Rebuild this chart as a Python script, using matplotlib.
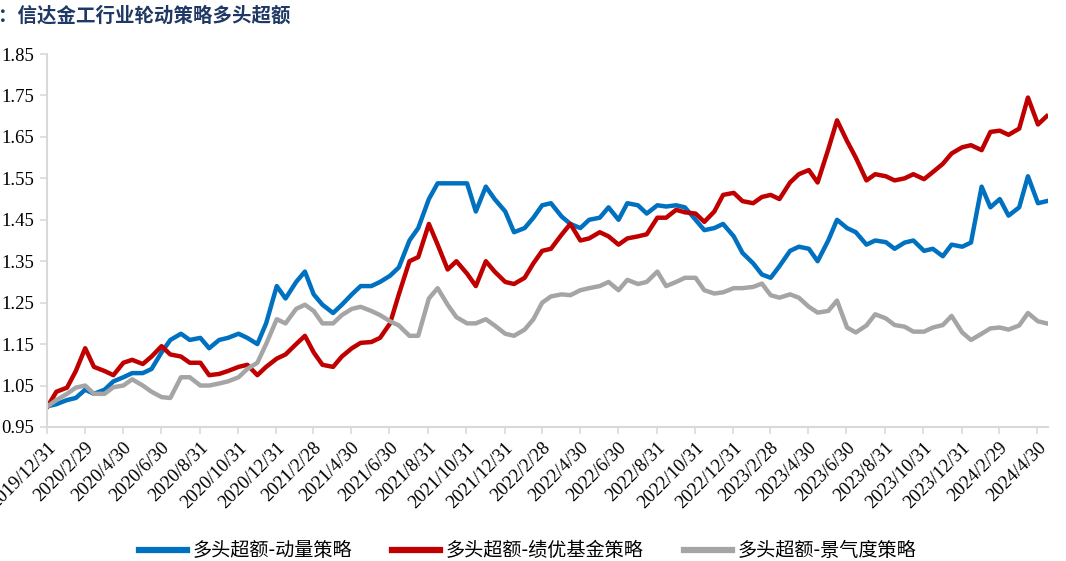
import pandas as pd
import numpy as np
import matplotlib
matplotlib.use('Agg')
import matplotlib.pyplot as plt

# semi-monthly sample points, 2020-01-01 .. 2024-05-15
dates = pd.date_range('2020-01-01', periods=106, freq='SMS')

momentum = [
    1.00, 1.005, 1.015, 1.02, 1.04, 1.03, 1.04, 1.06, 1.07, 1.08,
    1.08, 1.09, 1.13, 1.16, 1.175, 1.16, 1.165, 1.14, 1.16, 1.165,
    1.175, 1.165, 1.15, 1.20, 1.29, 1.26, 1.30, 1.325, 1.27, 1.245,
    1.225, 1.245, 1.27, 1.29, 1.29, 1.30, 1.315, 1.335, 1.40, 1.43,
    1.50, 1.538, 1.538, 1.538, 1.538, 1.47, 1.53, 1.50, 1.47, 1.42,
    1.43, 1.455, 1.485, 1.49, 1.458, 1.44, 1.43, 1.45, 1.455, 1.48,
    1.45, 1.49, 1.485, 1.465, 1.485, 1.482, 1.485, 1.48, 1.45, 1.425,
    1.43, 1.44, 1.41, 1.37, 1.345, 1.318, 1.31, 1.338, 1.375, 1.385,
    1.38, 1.35, 1.40, 1.45, 1.43, 1.42, 1.39, 1.40, 1.396, 1.38,
    1.395, 1.40, 1.375, 1.38, 1.362, 1.39, 1.385, 1.395, 1.53, 1.48,
    1.50, 1.46, 1.48, 1.555, 1.49, 1.495,
]

fund = [
    1.00, 1.035, 1.045, 1.085, 1.14, 1.095, 1.085, 1.075, 1.105, 1.112,
    1.102, 1.12, 1.145, 1.125, 1.12, 1.105, 1.105, 1.075, 1.078, 1.085,
    1.095, 1.10, 1.075, 1.095, 1.115, 1.125, 1.15, 1.17, 1.13, 1.10,
    1.095, 1.12, 1.14, 1.153, 1.155, 1.165, 1.20, 1.27, 1.35, 1.36,
    1.44, 1.39, 1.33, 1.35, 1.32, 1.29, 1.35, 1.325, 1.30, 1.295,
    1.31, 1.345, 1.375, 1.38, 1.414, 1.44, 1.40, 1.405, 1.42, 1.41,
    1.39, 1.405, 1.41, 1.415, 1.455, 1.455, 1.474, 1.468, 1.465, 1.445,
    1.47, 1.51, 1.515, 1.495, 1.49, 1.505, 1.51, 1.50, 1.54, 1.56,
    1.57, 1.54, 1.62, 1.69, 1.64, 1.60, 1.545, 1.56, 1.555, 1.545,
    1.55, 1.56, 1.548, 1.565, 1.585, 1.61, 1.625, 1.63, 1.618, 1.662,
    1.665, 1.655, 1.67, 1.745, 1.68, 1.70,
]

boom = [
    1.00, 1.015, 1.03, 1.045, 1.05, 1.03, 1.03, 1.046, 1.05, 1.065,
    1.05, 1.035, 1.022, 1.02, 1.07, 1.07, 1.05, 1.05, 1.055, 1.06,
    1.07, 1.09, 1.105, 1.15, 1.21, 1.20, 1.235, 1.245, 1.23, 1.20,
    1.20, 1.22, 1.235, 1.24, 1.23, 1.22, 1.205, 1.195, 1.17, 1.17,
    1.26, 1.285, 1.245, 1.215, 1.20, 1.20, 1.21, 1.195, 1.175, 1.17,
    1.185, 1.21, 1.25, 1.265, 1.27, 1.268, 1.28, 1.285, 1.29, 1.30,
    1.28, 1.305, 1.295, 1.30, 1.325, 1.29, 1.30, 1.31, 1.31, 1.28,
    1.272, 1.275, 1.285, 1.285, 1.288, 1.296, 1.268, 1.262, 1.27, 1.262,
    1.24, 1.226, 1.23, 1.255, 1.19, 1.178, 1.195, 1.222, 1.212, 1.196,
    1.192, 1.18, 1.18, 1.19, 1.196, 1.218, 1.178, 1.16, 1.175, 1.188,
    1.19, 1.185, 1.195, 1.225, 1.205, 1.20,
]

series_names = ['多头超额-动量策略', '多头超额-绩优基金策略', '多头超额-景气度策略']
series_colors = ['#0070C0', '#C00000', '#A5A5A5']
title = '：信达金工行业轮动策略多头超额'

tick_dates = pd.date_range('2019-12-31', '2024-04-30', freq='2ME')
tick_labels = [f'{d.year}/{d.month}/{d.day}' for d in tick_dates]
y_ticks = np.arange(0.95, 1.851, 0.10)

fig = plt.figure(figsize=(10.66, 5.61), dpi=100)
ax = fig.add_axes([0.0441, 0.2389, 0.939, 0.6648])

for vals, name, color in zip([momentum, fund, boom], series_names, series_colors):
    ax.plot(dates, vals, color=color, lw=3.2, label=name, solid_joinstyle='round')

ax.set_xlim(pd.Timestamp('2019-12-31'), pd.Timestamp('2024-05-17'))
ax.set_ylim(0.95, 1.85)
ax.set_yticks(y_ticks)
ax.set_yticklabels([f'{v:.2f}' for v in y_ticks], fontfamily='Liberation Serif', fontsize=13.5)
ax.set_xticks(tick_dates)
ax.set_xticklabels(tick_labels, rotation=45, ha='right', rotation_mode='anchor',
                   fontfamily='Liberation Serif', fontsize=13.5)

for s in ['top', 'right']:
    ax.spines[s].set_visible(False)
for s in ['left', 'bottom']:
    ax.spines[s].set_color('#D9D9D9')
    ax.spines[s].set_linewidth(1.5)
ax.tick_params(axis='both', direction='out', length=5, width=1.2, color='#D9D9D9', pad=4)

fig.text(-0.002, 0.972, title, fontsize=14, fontweight='bold', color='#203864',
         family=['Noto Sans CJK SC', 'DejaVu Sans'], va='center', ha='left')

leg = fig.legend(loc='center', bbox_to_anchor=(0.495, 0.018), ncol=3, frameon=False,
                 handlelength=2.5, columnspacing=2.1, handletextpad=0.3,
                 prop={'family': ['Noto Sans CJK SC', 'DejaVu Sans'], 'size': 13.8})
for line in leg.get_lines():
    line.set_linewidth(4.5)

fig.savefig('out.png', dpi=100)
